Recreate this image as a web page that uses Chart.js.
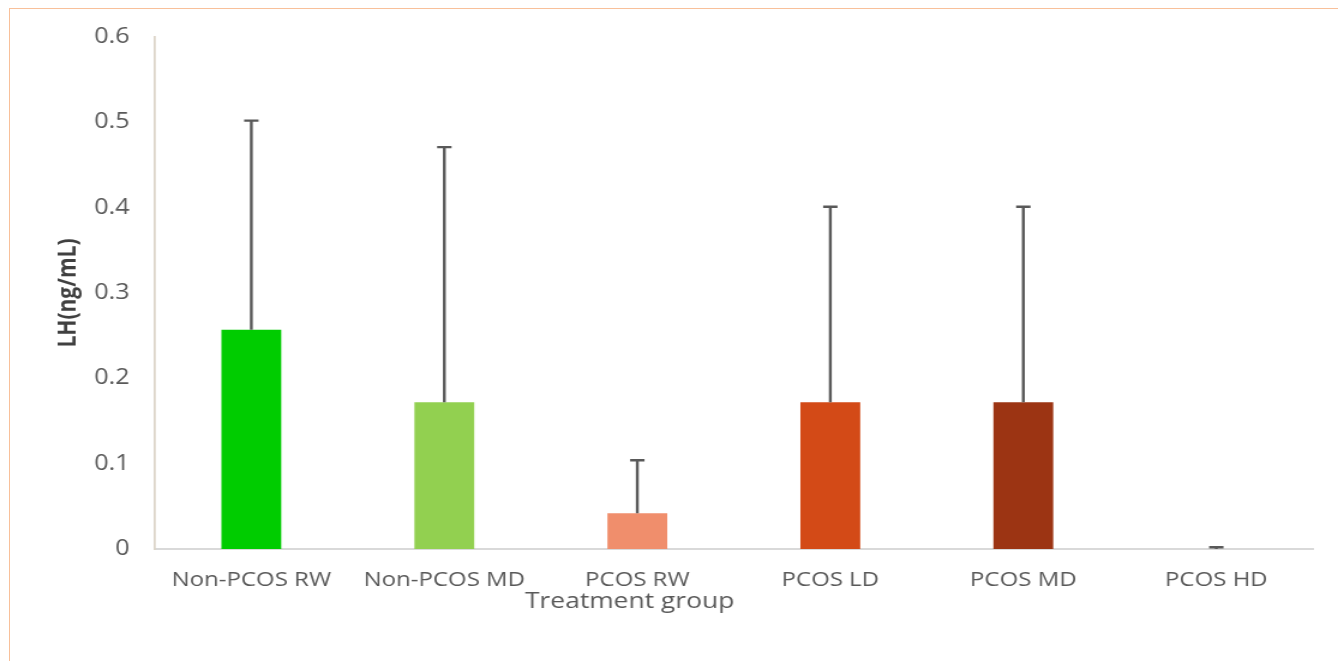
<!DOCTYPE html>
<html>
<head>
<meta charset="utf-8">
<script src="https://cdn.jsdelivr.net/npm/chart.js@4/dist/chart.umd.min.js"></script>
<style>
    html, body { margin: 0; padding: 0; background: #fff; overflow: hidden; }
    #wrap { position: relative; width: 1338px; height: 661px; }
    #frame { position: absolute; left: 9px; top: 8px; right: -5px; bottom: -5px;
             border-top: 1.5px solid #F8C09A; border-left: 1.5px solid #F8C09A; }
    /* the original picture is stretched sideways, so the canvas is too */
    #stretch { position: absolute; left: 0; top: 0; transform: scaleX(1.2); transform-origin: 0 0; }
</style>
</head>
<body>
<div id="wrap">
    <div id="frame"></div>
    <div id="stretch">
        <canvas id="lhChart" width="1115" height="661"></canvas>
    </div>
</div>
<script>
// Chart data
const groups = ['Non-PCOS RW', 'Non-PCOS MD', 'PCOS RW', 'PCOS LD', 'PCOS MD', 'PCOS HD'];
const lhMeans = [0.257, 0.172, 0.042, 0.172, 0.172, 0];
const lhErrors = [0.245, 0.299, 0.062, 0.229, 0.229, 0.002];
const barColors = ['#00CC00', '#92D050', '#F08E6C', '#D34A17', '#9C3413', '#7F2A10'];
const yTicks = [0, 0.1, 0.2, 0.3, 0.4, 0.5, 0.6];

const fontFamily = '"Open Sans", "DejaVu Sans", sans-serif';

// Upper error bars drawn from each bar top
const errorBars = {
    id: 'errorBars',
    afterDatasetsDraw(chart) {
        const ctx = chart.ctx;
        const meta = chart.getDatasetMeta(0);
        const y = chart.scales.y;
        ctx.save();
        ctx.strokeStyle = '#595959';
        ctx.lineWidth = 2.4;
        meta.data.forEach((bar, i) => {
            const top = y.getPixelForValue(lhMeans[i]);
            const end = y.getPixelForValue(lhMeans[i] + lhErrors[i]);
            ctx.beginPath();
            ctx.moveTo(bar.x, top);
            ctx.lineTo(bar.x, end);
            ctx.moveTo(bar.x - 6, end);
            ctx.lineTo(bar.x + 6, end);
            ctx.stroke();
        });
        ctx.restore();
    }
};

// Axis titles placed like the original
const axisTitles = {
    id: 'axisTitles',
    afterDraw(chart) {
        const ctx = chart.ctx;
        const area = chart.chartArea;
        ctx.save();
        ctx.fillStyle = '#595959';
        ctx.textAlign = 'center';
        ctx.textBaseline = 'middle';
        ctx.font = '22px ' + fontFamily;
        ctx.fillText('Treatment group', area.left + (area.right - area.left) * 0.41, 602);
        ctx.translate(57, (area.top + area.bottom) / 2);
        ctx.rotate(-Math.PI / 2);
        ctx.fillStyle = '#404040';
        ctx.font = 'bold 21px ' + fontFamily;
        ctx.fillText('LH(ng/mL)', 0, 0);
        ctx.restore();
    }
};

const ctx = document.getElementById('lhChart').getContext('2d');
new Chart(ctx, {
    type: 'bar',
    data: {
        labels: groups,
        datasets: [{
            data: lhMeans,
            backgroundColor: barColors,
            borderWidth: 0,
            categoryPercentage: 1,
            barPercentage: 0.31
        }]
    },
    options: {
        responsive: false,
        animation: false,
        layout: {
            padding: { left: 10, top: 37, right: 21, bottom: 0 }
        },
        plugins: {
            legend: { display: false },
            tooltip: { enabled: false }
        },
        scales: {
            x: {
                grid: { display: false, drawTicks: false },
                border: { color: '#D9D9D9', width: 2 },
                ticks: {
                    color: '#595959',
                    padding: 19,
                    maxRotation: 0,
                    font: { family: fontFamily, size: 20 }
                },
                afterFit: (scale) => { scale.height = 112; }
            },
            y: {
                min: 0,
                max: 0.6,
                afterBuildTicks: (scale) => { scale.ticks = yTicks.map(v => ({ value: v })); },
                grid: { display: false, drawTicks: false },
                border: { color: '#DDD6CA', width: 1.8 },
                ticks: {
                    color: '#595959',
                    padding: 21,
                    font: { family: fontFamily, size: 21 },
                    callback: (v) => String(v)
                },
                afterFit: (scale) => { scale.width = 119; }
            }
        }
    },
    plugins: [errorBars, axisTitles]
});
</script>
</body>
</html>
